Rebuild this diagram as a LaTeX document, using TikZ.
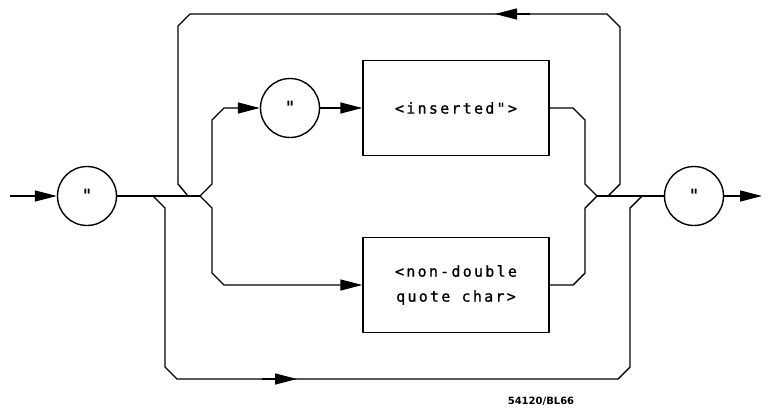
\documentclass[tikz,border=0pt]{standalone}
\usepackage{fontspec}
\newfontfamily\plotfont[LetterSpace=15,FakeBold=1]{DejaVu Sans Mono}
\newfontfamily\tagfont{DejaVu Sans}
\usetikzlibrary{arrows.meta,positioning}
\begin{document}
\begin{tikzpicture}[x=1pt,y=-1pt,line width=1.4pt,line join=round,
  tip/.style={-{Triangle[length=22pt,width=11pt]}},
  quotec/.style={draw,circle,minimum size=59pt,inner sep=0pt,font=\plotfont\fontsize{17}{18}\selectfont},
  elem/.style={draw,rectangle,minimum width=186pt,minimum height=95pt,align=center,font=\plotfont\fontsize{15}{25}\selectfont}]
\useasboundingbox (0,0) rectangle (771,408);
% elements
\node[quotec] (cin) at (87,196) {\raisebox{2pt}{"}};
\node[quotec] (cq) at (290,108) {\raisebox{2pt}{"}};
\node[quotec] (cout) at (694,196) {\raisebox{2pt}{"}};
\node[elem] (ins) at (456,108) {<inserted">};
\node[elem] (nondq) at (456,285) {<non-double\\quote char>};
\node[font=\tagfont\bfseries\fontsize{10}{12}\selectfont] (tag) at (541,401) {54120/BL66};
% forks
\coordinate (start) at (10,196); \coordinate (stop) at (762,196);
\coordinate (jl) at (200,196); \coordinate (jr) at (597,196);
\coordinate (byl) at (153,196); \coordinate (byr) at (642,196);
\coordinate (lpl) at (188,196); \coordinate (lpr) at (608,196);
% main line
\draw[tip] (start) -- (cin);
\draw (cin) -- (jl); \draw (jr) -- (cout);
\draw[tip] (cout) -- (stop);
% inner branches
\draw[tip] (jl) -- (212,184) -- (212,120) -- (224,108) -- (cq);
\draw[tip] (cq) -- (ins);
\draw[tip] (jl) -- (212,208) -- (212,273) -- (224,285) -- (nondq);
\draw (ins) -- (573,108) -- (585,120) -- (585,184) -- (jr);
\draw (nondq) -- (573,285) -- (585,273) -- (585,208) -- (jr);
% repeat loop
\draw (lpr) -- (620,184) -- (620,27) -- (607,14) -- (190,14) -- (178,26) -- (178,184) -- (lpl);
\draw[tip] (530,14) -- (495,14);
% bypass
\draw (byl) -- (165,208) -- (165,367) -- (177,379) -- (618,379) -- (630,367) -- (630,208) -- (byr);
\draw[tip] (262,379) -- (297,379);
\end{tikzpicture}
\end{document}
